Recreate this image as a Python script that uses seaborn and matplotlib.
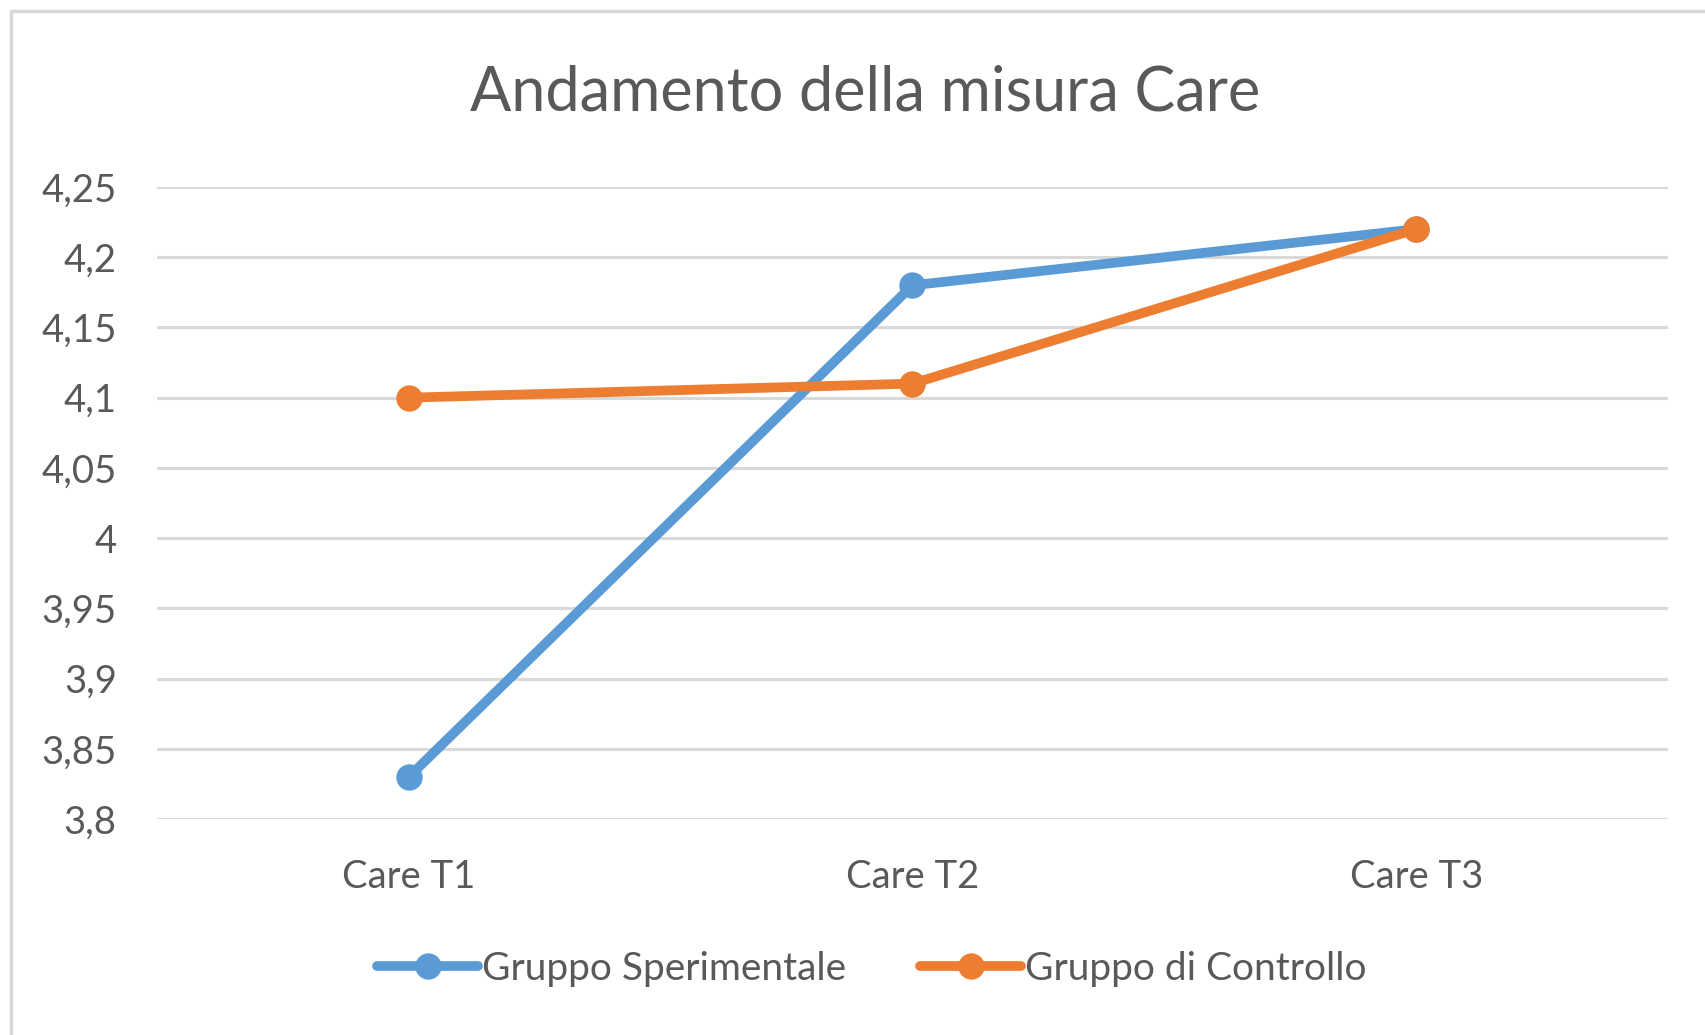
import pandas as pd
import matplotlib
matplotlib.use("Agg")
import matplotlib.pyplot as plt
from matplotlib.lines import Line2D
import seaborn as sns

# Dati
tempi = ["Care T1", "Care T2", "Care T3"]
sperimentale = [3.83, 4.18, 4.22]
controllo = [4.10, 4.11, 4.22]
gruppi = ["Gruppo Sperimentale", "Gruppo di Controllo"]
y_ticks = [3.8, 3.85, 3.9, 3.95, 4.0, 4.05, 4.1, 4.15, 4.2, 4.25]
y_labels = ["3,8", "3,85", "3,9", "3,95", "4", "4,05", "4,1", "4,15", "4,2", "4,25"]

df = pd.DataFrame({
    "Tempo": tempi * 2,
    "Valore": sperimentale + controllo,
    "Gruppo": [gruppi[0]] * 3 + [gruppi[1]] * 3,
})

sns.set_style("white")
plt.rcParams["font.family"] = ["Lato", "DejaVu Sans"]
testo = "#595959"
colori = {gruppi[0]: "#5B9BD5", gruppi[1]: "#ED7D31"}

fig = plt.figure(figsize=(17.06, 10.35), dpi=100)
ax = fig.add_axes([157 / 1706, 1 - 819 / 1035, (1668 - 157) / 1706, (819 - 187) / 1035])

sns.lineplot(data=df, x="Tempo", y="Valore", hue="Gruppo", palette=colori,
             marker="o", markersize=19, markeredgewidth=0, linewidth=7,
             legend=False, ax=ax)

ax.set_xlim(-0.5, 2.5)
ax.set_ylim(3.8, 4.25)
ax.set_yticks(y_ticks)
ax.set_yticklabels(y_labels)
ax.grid(axis="y", color="#d9d9d9", linewidth=2.2)
ax.set_axisbelow(True)
for s in ax.spines.values():
    s.set_visible(False)
ax.tick_params(axis="both", length=0, labelsize=27.5, labelcolor=testo)
ax.tick_params(axis="y", pad=29)
ax.tick_params(axis="x", pad=29)
ax.set_xlabel("")
ax.set_ylabel("")

fig.text(0.507, 1 - 93 / 1035, "Andamento della misura Care", ha="center", va="center",
         fontsize=44, color=testo)

handles = [Line2D([0], [0], color=colori[g], linewidth=7, marker="o",
                  markersize=19, markeredgewidth=0) for g in gruppi]
fig.legend(handles, gruppi, loc="center", bbox_to_anchor=(872 / 1706, 1 - 969 / 1035),
           ncol=2, frameon=False, fontsize=28, labelcolor=testo,
           handlelength=2.6, handletextpad=0.1, columnspacing=1.9)

# cornice grigia del grafico
fig.add_artist(Line2D([11 / 1706, 11 / 1706], [0, 1 - 11 / 1035], color="#d9d9d9",
                      linewidth=2.5, transform=fig.transFigure))
fig.add_artist(Line2D([11 / 1706, 1], [1 - 11 / 1035, 1 - 11 / 1035], color="#d9d9d9",
                      linewidth=2.5, transform=fig.transFigure))

fig.savefig("out.png", dpi=100)
